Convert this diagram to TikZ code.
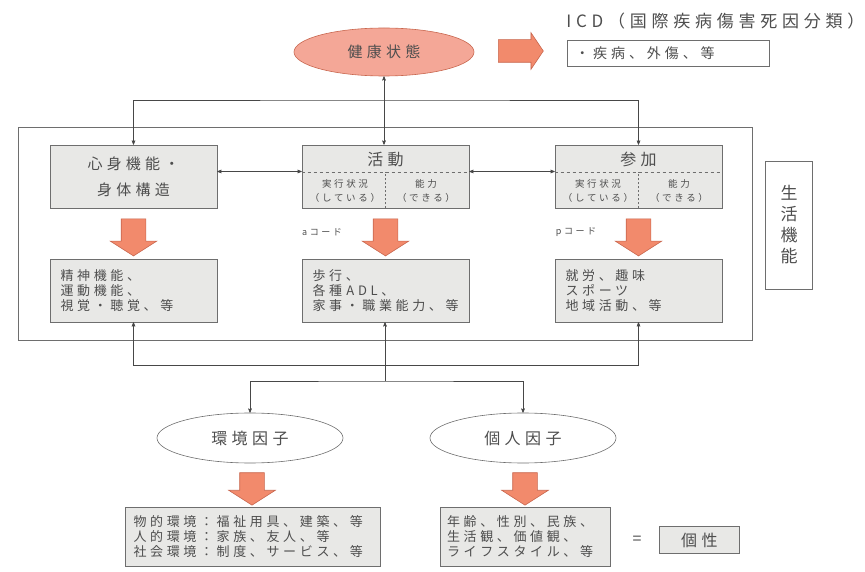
\documentclass[tikz,border=0pt]{standalone}
\usepackage{fontspec}
\setmainfont{Noto Sans CJK JP}[LetterSpace=28]
\newfontfamily\tightjp{Noto Sans CJK JP}
\usetikzlibrary{positioning,shapes,arrows,shapes.arrows}
\tikzset{>=stealth'}
\definecolor{boxgray}{HTML}{E8E8E6}
\definecolor{boxedge}{HTML}{6E6E6E}
\definecolor{linegray}{HTML}{474747}
\definecolor{txtgray}{HTML}{4E4E4E}
\definecolor{fatsalmon}{HTML}{F28A6C}
\definecolor{fatedge}{HTML}{C8664E}
\definecolor{healthpink}{HTML}{F4A797}

\begin{document}
\begin{tikzpicture}[x=1pt,y=-1pt,->,>=stealth',semithick,color=linegray,text=txtgray]
      \tikzstyle{mainbox}=[draw=boxedge,fill=boxgray,minimum width=167pt,minimum height=63pt,inner sep=0pt,align=center,font=\fontsize{15}{26}\selectfont]
      \tikzstyle{listbox}=[draw=boxedge,fill=boxgray,minimum width=167pt,minimum height=63pt,text width=146pt,align=left,font=\fontsize{13}{15}\selectfont]
      \tikzstyle{oval}=[draw=boxedge,ellipse,minimum width=186pt,minimum height=50pt,font=\fontsize{16}{18}\selectfont]
      \tikzstyle{fat}=[draw=fatedge,fill=fatsalmon,single arrow,inner sep=12pt,single arrow head extend=11pt,single arrow tip angle=115,minimum height=37pt,shape border rotate=270]
      \tikzstyle{sub}=[align=center,inner sep=0pt,font=\fontsize{9.5}{14}\selectfont]
      \tikzstyle{code}=[inner sep=0pt,font=\fontsize{9}{11}\selectfont]

      \useasboundingbox (0,0) rectangle (865,572);

      % health condition
      \node[oval,fill=healthpink,draw=fatedge,minimum width=180pt,minimum height=48pt,font=\fontsize{15}{18}\selectfont] (health) at (384,52) {健康状態};
      \node[fat,minimum height=45pt,inner sep=11pt,single arrow head extend=7pt,single arrow tip angle=112,shape border rotate=0] (icdfat) at (517,51) {};
      \node[anchor=west,inner sep=0pt,font=\fontsize{17}{20}\selectfont] (icd) at (566,21) {ICD（国際疾病傷害死因分類）};
      \node[draw=boxedge,fill=white,anchor=north west,minimum height=26pt,text width=186pt,inner xsep=8pt,align=left,font=\fontsize{14}{16}\selectfont] (icdbox) at (567,40) {・疾病、外傷、等};

      % functioning
      \node[draw=boxedge,minimum width=734pt,minimum height=213pt] (life) at (385,233.5) {};
      \node[draw=boxedge,minimum width=47pt,minimum height=128pt,align=center,font=\tightjp\fontsize{17}{21}\selectfont] (lifelabel) at (789,225) {生\\活\\機\\能};

      \node[mainbox] (body) at (133.5,176.5) {心身機能・\\身体構造};
      \node[mainbox] (act)  at (385.5,176.5) {};
      \node[mainbox] (part) at (638.5,176.5) {};
      \coordinate (split) at (0,172);
      \node[font=\fontsize{16}{18}\selectfont,below=4pt of act.north]  (actttl)  {活動};
      \node[font=\fontsize{16}{18}\selectfont,below=4pt of part.north] (partttl) {参加};
      \draw[-,dashed,boxedge] (act.west |- split) -- (act.east |- split);
      \draw[-,dash pattern=on 2pt off 2pt,boxedge] (act.south) -- (act.south |- split);
      \draw[-,dashed,boxedge] (part.west |- split) -- (part.east |- split);
      \draw[-,dash pattern=on 2pt off 2pt,boxedge] (part.south) -- (part.south |- split);
      \node[sub] (actdo)   at (345,191) {実行状況\\（している）};
      \node[sub] (actcan)  at (426,191) {能力\\（できる）};
      \node[sub] (partdo)  at (598,191) {実行状況\\（している）};
      \node[sub] (partcan) at (679,191) {能力\\（できる）};

      \node[fat] (bodyfat) at (133.5,233.5) {};
      \node[fat] (actfat)  at (385.5,233.5) {};
      \node[fat] (partfat) at (638.5,233.5) {};
      \node[code] (acode) at (322,232) {aコード};
      \node[code] (pcode) at (576,232) {pコード};

      \node[listbox] (bodylist) at (133.5,290.5) {精神機能、\\運動機能、\\視覚・聴覚、等};
      \node[listbox] (actlist)  at (385.5,290.5) {歩行、\\各種 ADL、\\家事・職業能力、等};
      \node[listbox] (partlist) at (638.5,290.5) {就労、趣味\\スポーツ\\地域活動、等};

      % contextual factors
      \node[oval] (env)  at (250,438) {環境因子};
      \node[oval] (pers) at (523,438) {個人因子};
      \node[fat,minimum height=31pt] (envfat)  at (252,485) {};
      \node[fat,minimum height=31pt] (persfat) at (525,485) {};
      \node[listbox,minimum width=255pt,minimum height=59pt,text width=238pt] (envlist) at (252.5,536.5) {物的環境：福祉用具、建築、等\\人的環境：家族、友人、等\\社会環境：制度、サービス、等};
      \node[listbox,minimum width=170pt,minimum height=59pt,text width=156pt] (perslist) at (525,536.5) {年齢、性別、民族、\\生活観、価値観、\\ライフスタイル、等};
      \node[font=\tightjp\fontsize{16}{18}\selectfont] (eq) at (637,540) {=};
      \node[draw=boxedge,fill=boxgray,minimum width=80pt,minimum height=27pt,font=\fontsize{16}{18}\selectfont,right=14pt of eq] (indiv) {個性};

      % connectors
      \coordinate (tophub) at (384,100);
      \coordinate (lowhub) at (385,365);
      \coordinate (envhub) at (385,381);
      \draw[<->] (health) -- (health |- act.north);
      \draw[<->] (body) |- (tophub) -| (part);
      \draw[<->] ([yshift=5pt]body.east) -- ([yshift=5pt]act.west);
      \draw[<->] ([yshift=5pt]act.east) -- ([yshift=5pt]part.west);
      \draw (lowhub) -| (bodylist);
      \draw (lowhub) -| (partlist);
      \draw (lowhub) -- (lowhub |- actlist.south);
      \draw[<->] (env) |- (envhub) -| (pers);
      \draw[-] (lowhub) -- (envhub);
\end{tikzpicture}
\end{document}
